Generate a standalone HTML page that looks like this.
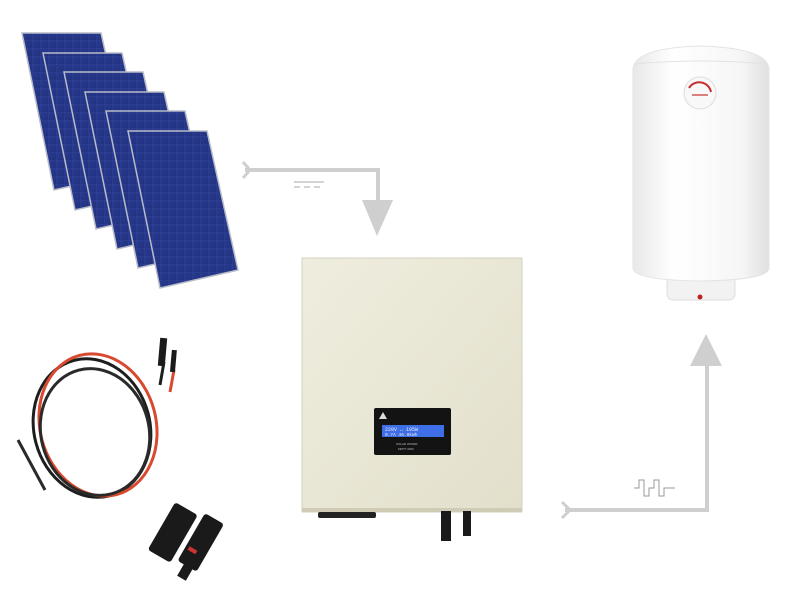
<!DOCTYPE html>
<html><head><meta charset="utf-8"><style>
html,body{margin:0;padding:0;background:#fff;}
svg{display:block;}
</style></head><body>
<svg width="794" height="600" viewBox="0 0 794 600" xmlns="http://www.w3.org/2000/svg">
<defs>
<linearGradient id="pan" x1="0" y1="0" x2="1" y2="1">
<stop offset="0" stop-color="#2a3b8f"/><stop offset="1" stop-color="#213280"/></linearGradient>
<pattern id="grid" width="8" height="8" patternUnits="userSpaceOnUse">
<rect width="8" height="8" fill="url(#pan)"/><path d="M0 0H8M0 0V8" stroke="#34479f" stroke-width="0.5"/></pattern>
<linearGradient id="inv" x1="0" y1="0" x2="1" y2="1">
<stop offset="0" stop-color="#efedde"/><stop offset="1" stop-color="#e2dfcb"/></linearGradient>
<linearGradient id="tank" x1="0" y1="0" x2="1" y2="0">
<stop offset="0" stop-color="#e8e8e8"/><stop offset="0.3" stop-color="#ffffff"/><stop offset="0.8" stop-color="#f6f6f6"/><stop offset="1" stop-color="#e0e0e0"/></linearGradient>
</defs>

<g stroke="#b8bcc8" stroke-width="1.5">
<polygon points="22,33 101,33 132,172 54,190" fill="url(#grid)"/>
<polygon points="43,53 122,53 153,192 75,210" fill="url(#grid)"/>
<polygon points="64,72 143,72 174,211 96,229" fill="url(#grid)"/>
<polygon points="85,92 164,92 195,231 117,249" fill="url(#grid)"/>
<polygon points="106,111 185,111 216,250 138,268" fill="url(#grid)"/>
<polygon points="128,131 207,131 238,270 160,288" fill="url(#grid)"/>
</g>

<g fill="none" stroke="#cfcfcf" stroke-width="4">
<polyline points="245,170 378,170 378,205"/>
<polyline points="243,162 250,170 243,178" stroke-width="3"/>
</g>
<polygon points="362,200 393,200 377,236" fill="#cfcfcf"/>
<g stroke="#aaa" stroke-width="1"><line x1="294" y1="182" x2="324" y2="182"/><line x1="294" y1="187" x2="300" y2="187"/><line x1="304" y1="187" x2="310" y2="187"/><line x1="314" y1="187" x2="320" y2="187"/></g>

<g fill="none" stroke-width="3">
<ellipse cx="92" cy="428" rx="58" ry="70" stroke="#1e1e1e" transform="rotate(-15 92 428)"/>
<ellipse cx="98" cy="425" rx="58" ry="72" stroke="#d84a30" transform="rotate(-15 98 425)"/>
<ellipse cx="95" cy="432" rx="54" ry="64" stroke="#2a2a2a" transform="rotate(-15 95 432)"/>
<path d="M160 385 L164 362" stroke="#1e1e1e"/><path d="M170 392 L174 370" stroke="#d84a30"/>
<path d="M18 440 L45 490" stroke="#2a2a2a"/>
</g>
<rect x="159" y="338" width="7" height="28" fill="#1b1b1b" transform="rotate(5 163 352)"/>
<rect x="171" y="350" width="5" height="22" fill="#1b1b1b" transform="rotate(5 173 360)"/>

<g fill="#1a1a1a">
<rect x="160" y="505" width="26" height="55" rx="3" transform="rotate(30 173 532)"/>
<rect x="190" y="515" width="22" height="55" rx="3" transform="rotate(30 201 542)"/>
<rect x="183" y="555" width="10" height="25" transform="rotate(30 188 567)"/>
</g>
<rect x="188" y="548" width="9" height="4" fill="#c33" transform="rotate(30 192 550)"/>

<rect x="302" y="258" width="220" height="254" fill="url(#inv)" stroke="#d3d0bc"/>
<rect x="302" y="508" width="220" height="4" fill="#cfcbb4"/>
<rect x="374" y="408" width="77" height="47" rx="2" fill="#131313"/>
<rect x="382" y="425" width="62" height="12" fill="#3f6fe6"/>
<polygon points="379,419 383,412 387,419" fill="#ddd"/>
<text x="385" y="431" font-family="Liberation Mono, monospace" font-size="5" fill="#e8eeff">220V ↔ 195W</text>
<text x="385" y="436" font-family="Liberation Mono, monospace" font-size="4.5" fill="#e8eeff">0.7A   46.0kWh</text>
<text x="396" y="445" font-family="Liberation Sans, sans-serif" font-size="3" fill="#bbb">SOLAR WATER</text>
<text x="398" y="450" font-family="Liberation Sans, sans-serif" font-size="3" fill="#bbb">MPPT 3000</text>
<rect x="318" y="512" width="58" height="6" rx="2" fill="#222"/>
<rect x="441" y="511" width="10" height="30" fill="#1a1a1a"/>
<rect x="463" y="511" width="8" height="25" fill="#1a1a1a"/>

<g fill="none" stroke="#cfcfcf" stroke-width="4">
<polyline points="565,510 707,510 707,365"/>
<polyline points="562,502 570,510 562,518" stroke-width="3"/>
</g>
<polygon points="690,366 722,366 706,334" fill="#cfcfcf"/>
<polyline points="634,488 639,488 639,480 644,480 644,496 649,496 649,488 654,488 654,480 659,480 659,496 664,496 664,488 675,488" fill="none" stroke="#999" stroke-width="1"/>

<rect x="667" y="276" width="68" height="24" rx="6" fill="#f2f2f2" stroke="#ddd"/>
<circle cx="700" cy="297" r="2.5" fill="#b22"/>
<path d="M633 70 Q633 48 700 46 Q769 48 769 70 L769 268 Q769 280 700 281 Q633 280 633 268 Z" fill="url(#tank)" stroke="#e3e3e3"/>
<path d="M634 64 Q700 58 768 64" fill="none" stroke="#e2e2e2"/>
<circle cx="700" cy="93" r="16" fill="#f8f8f8" stroke="#dcdcdc"/>
<path d="M689 88 A12 12 0 0 1 711 92" fill="none" stroke="#c83030" stroke-width="2"/>
<line x1="692" y1="95" x2="708" y2="95" stroke="#c83030" stroke-width="1.2"/>
</svg>
</body></html>
